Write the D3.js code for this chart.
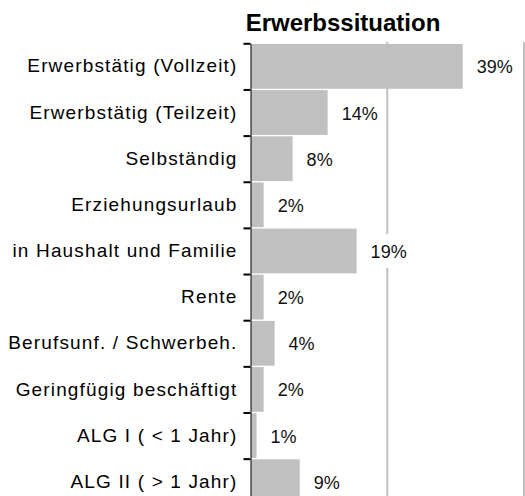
<!DOCTYPE html>
<html>
<head>
<meta charset="utf-8">
<script src="https://cdn.jsdelivr.net/npm/d3@7"></script>
<style>
  body { margin: 0; background: #fff; overflow: hidden; }
  svg { display: block; }
</style>
</head>
<body>
<div id="chart"></div>
<script>
/* horizontal bar chart: Erwerbssituation */

const categories = ["Erwerbstätig (Vollzeit)", "Erwerbstätig (Teilzeit)", "Selbständig", "Erziehungsurlaub",
    "in Haushalt und Familie", "Rente", "Berufsunf. / Schwerbeh.", "Geringfügig beschäftigt",
    "ALG I ( < 1 Jahr)", "ALG II ( > 1 Jahr)"];
const values = [38.8, 14.1, 7.7, 2.4, 19.4, 2.4, 4.4, 2.4, 1.1, 9.0];
const gridValues = [25, 50];
const title = "Erwerbssituation";

const data = categories.map((c, i) => ({category: c, value: values[i]}));

const width = 525,
      height = 496,
      margin = ({top: 43.3, left: 250.5, right: 1});  // chart runs off the bottom of the picture

const bandStep = 46.15;

let svg = d3.select("#chart")
    .append("svg")
    .attr("width", width)
    .attr("height", height)
    .attr("viewBox", [0, 0, width, height])
    .style("font-family", "'Liberation Sans', Arial, sans-serif");

let x = d3.scaleLinear()
    .domain([0, 50])
    .range([margin.left, 524]);

let y = d3.scaleBand()
    .domain(categories)
    .range([margin.top, margin.top + bandStep * categories.length])
    .paddingInner(0.03)
    .paddingOuter(0.015);

// boundaries between the bands, for the tick marks
let yEdge = d3.scaleLinear()
    .domain([0, categories.length])
    .range(y.range());

// title
svg.append("text")
    .attr("x", 343)
    .attr("y", 31)
    .attr("text-anchor", "middle")
    .attr("font-size", 24)
    .attr("font-weight", "bold")
    .attr("fill", "#000")
    .text(title);

// grid lines
svg.append("g")
    .selectAll("line")
    .data(gridValues)
    .join("line")
    .attr("x1", d => x(d))
    .attr("x2", d => x(d))
    .attr("y1", 42)
    .attr("y2", height)
    .attr("stroke", "#c0c0c0")
    .attr("stroke-width", 2);

// bars
svg.append("g")
    .selectAll("rect")
    .data(data)
    .join("rect")
    .attr("fill", "#c0c0c0")
    .attr("x", x(0) + 0.5)
    .attr("y", d => y(d.category))
    .attr("width", d => x(d.value) - x(0) - 0.5)
    .attr("height", y.bandwidth());

// value labels on white boxes
let lab = svg.append("g")
    .selectAll("g")
    .data(data)
    .join("g")
    .attr("transform", d => `translate(${x(d.value)}, ${y(d.category) + y.bandwidth() / 2})`);

lab.append("rect")
    .attr("x", 6)
    .attr("y", -17)
    .attr("width", 48)
    .attr("height", 34)
    .attr("fill", "#fff");

lab.append("text")
    .attr("x", 14)
    .attr("y", 7)
    .attr("font-size", 18)
    .attr("fill", "#111")
    .text(d => Math.round(d.value) + "%");

// category labels
svg.append("g")
    .attr("transform", `translate(${x(0)}, 0)`)
    .call(d3.axisLeft(y).tickSize(0).tickPadding(13))
    .call(g => g.select(".domain").remove())
    .call(g => g.selectAll("text")
        .attr("font-size", 19)
        .attr("letter-spacing", "1.15px")
        .attr("fill", "#000")
        .attr("font-family", "'Liberation Sans', Arial, sans-serif"));

// axis line with ticks at the band edges
svg.append("g")
    .attr("transform", `translate(${x(0)}, 0)`)
    .call(d3.axisLeft(yEdge).ticks(categories.length).tickSize(7).tickSizeOuter(0).tickFormat(""))
    .call(g => g.selectAll(".tick line").attr("stroke", "#000").attr("stroke-width", 2))
    .call(g => g.select(".domain").attr("stroke", "#000"));
</script>
</body>
</html>
